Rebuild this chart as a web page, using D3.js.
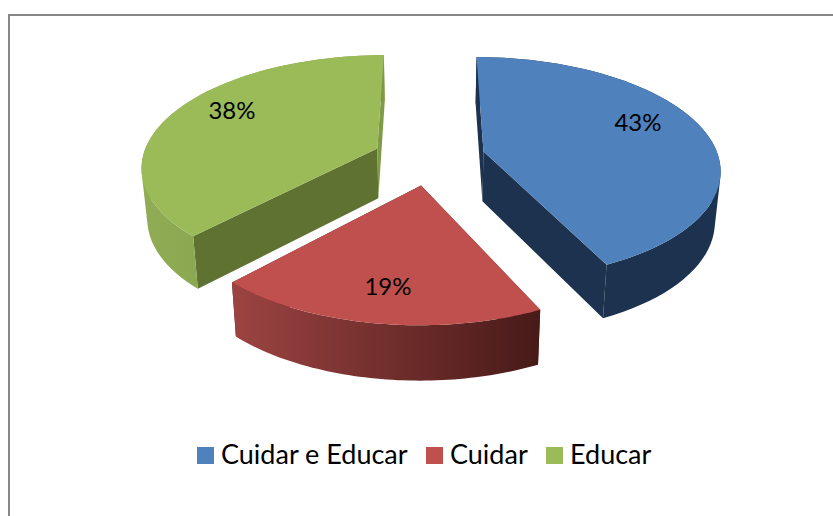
<!DOCTYPE html>
<html><head><meta charset="utf-8">
<script src="https://cdnjs.cloudflare.com/ajax/libs/d3/7.8.5/d3.min.js"></script>
<style>html,body{margin:0;padding:0;background:#fff}svg{display:block}text{font-family:Lato,"Open Sans",sans-serif;fill:#000}</style>
</head><body><svg id="c" width="833" height="516"></svg>
<script>
const categories = ["Cuidar e Educar", "Cuidar", "Educar"];
const values = [43, 19, 38];
const labels = ["43%", "19%", "38%"];
const topColors = ["#4F81BD", "#C0504D", "#9BBB59"];
const startColors = ["#1C324E", "#5A201E", "#5F7232"];
const endColors = ["#1C324E", "#5A201E", "#7F9A48"];
const sideFrom = ["#1C324E", "#9C4442", "#90AC54"];
const sideTo = ["#1C324E", "#471A18", "#7E9848"];
const labelPos = [[638,123],[388,287],[232,111]];
const legendX = [197,426,546];
const nudgeX = [0,0,-2];
const nudgeY = [-2,0,-1];

const svg = d3.select("#c");
const cx=430, cy=159, a=235, b=110, k=0.15, e=0.235, depth=50, shrink=0.02;
const sx=d3.scaleLinear().domain([0,1]).range([cx,cx+a]);
const sy=d3.scaleLinear().domain([0,1]).range([cy,cy+b]);
function proj(t,mid,r,z,i){
  const X=r*Math.sin(t)+e*Math.sin(mid), Y=-r*Math.cos(t)-e*Math.cos(mid), s=1/(1-k*Y);
  const x=sx(X*s), y=sy(Y*s);
  return [cx+(x-cx)*(1-shrink*z)+nudgeX[i], y+depth*Math.sqrt(s)*z+nudgeY[i]];
}
const line=d3.line();
const defs=svg.append("defs");
const arcs=d3.pie().sort(null).value(d=>d)(values);

svg.append("path").attr("d","M9,516V15H833").attr("fill","none").attr("stroke","#878787").attr("stroke-width",2);

arcs.forEach((d,i)=>{
  const mid=(d.startAngle+d.endAngle)/2;
  const ts=d3.range(0,61).map(j=>d.startAngle+(d.endAngle-d.startAngle)*j/60);
  const g=svg.append("g");
  const outerTop=ts.map(t=>proj(t,mid,1,0,i));
  const outerBot=ts.map(t=>proj(t,mid,1,1,i));
  const lg=defs.append("linearGradient").attr("id","s"+i).attr("gradientUnits","userSpaceOnUse")
    .attr("x1",d3.min(outerTop,p=>p[0])).attr("x2",d3.max(outerTop,p=>p[0])).attr("y1",0).attr("y2",0);
  lg.append("stop").attr("offset",0).attr("stop-color",sideFrom[i]);
  lg.append("stop").attr("offset",1).attr("stop-color",sideTo[i]);
  const wall=(t,col)=>g.append("path").attr("fill",col).attr("d",line([proj(t,mid,0,0,i),proj(t,mid,1,0,i),proj(t,mid,1,1,i),proj(t,mid,0,1,i)])+"Z");
  wall(d.startAngle,startColors[i]);
  wall(d.endAngle,endColors[i]);
  const strips=d3.range(60).map(j=>{
    const q=[outerTop[j],outerTop[j+1],outerBot[j+1],outerBot[j]];
    return line(d3.polygonArea(q)<0?q.slice().reverse():q)+"Z";
  }).join("");
  g.append("path").attr("fill",`url(#s${i})`).attr("fill-rule","nonzero").attr("d",strips);
  g.append("path").attr("fill",topColors[i]).attr("d",line([proj(0,mid,0,0,i)].concat(outerTop))+"Z");
});
labels.forEach((t,i)=>svg.append("text").attr("x",labelPos[i][0]).attr("y",labelPos[i][1]+8).attr("text-anchor","middle").attr("font-size",24).text(t));
categories.forEach((c,i)=>{
  svg.append("rect").attr("x",legendX[i]).attr("y",447).attr("width",17).attr("height",17).attr("fill",topColors[i]);
  svg.append("text").attr("x",legendX[i]+24).attr("y",464).attr("font-size",27).text(c);
});
</script></body></html>
